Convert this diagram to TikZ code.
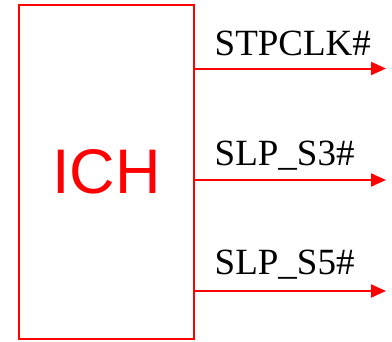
\documentclass[tikz,border=0pt]{standalone}
\usepackage{fontspec}
\setmainfont{Liberation Serif}
\newfontfamily\chipfont{Liberation Sans}
\usetikzlibrary{arrows.meta}
\begin{document}
\begin{tikzpicture}[x=1pt, y=-1pt,
  chip/.style={draw=red, line width=2pt, minimum width=175.5pt, minimum height=334.5pt,
    inner sep=0pt, text=red, font=\chipfont\fontsize{63}{70}\selectfont},
  signal/.style={draw=red, line width=2pt, -{Triangle[length=15pt,width=13pt]}},
  siglabel/.style={anchor=base west, inner sep=0pt, text=black, font=\fontsize{37}{40}\selectfont}]
  \useasboundingbox (0,0) rectangle (392,341);
  % the controller hub block
  \node[chip] (ich) at (106.25,171.75) {ICH};
  % output line end points
  \coordinate (e1) at (386,68.5);
  \coordinate (e2) at (386,180);
  \coordinate (e3) at (386,291);
  % output signals
  \draw[signal] (ich.east |- e1) -- (e1);
  \draw[signal] (ich.east |- e2) -- (e2);
  \draw[signal] (ich.east |- e3) -- (e3);
  % signal names
  \node[siglabel] (l1) at (214.5,55) {STPCLK\#};
  \node[siglabel] (l2) at (214.5,165) {SLP\_S3\#};
  \node[siglabel] (l3) at (214.5,274.5) {SLP\_S5\#};
\end{tikzpicture}
\end{document}
